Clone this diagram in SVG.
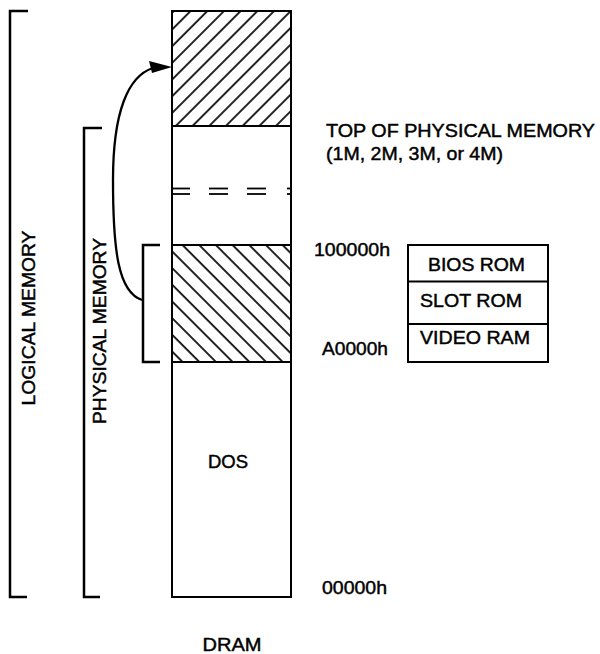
<svg xmlns="http://www.w3.org/2000/svg" width="600" height="654" viewBox="0 0 600 654">
<style>
  .t { font-family: "Liberation Sans", Arial, Helvetica, sans-serif; font-size: 18.5px; fill: #000; stroke: #000; stroke-width: 0.45; }
  .s { fill: none; stroke: #000; stroke-width: 2; }
  .b { fill: none; stroke: #000; stroke-width: 2.5; }
</style>
<defs>
  <pattern id="hatchUp" patternUnits="userSpaceOnUse" width="11.8" height="11.8" patternTransform="rotate(45)">
    <line x1="1" y1="-1" x2="1" y2="13" stroke="#000" stroke-width="1.7"/>
  </pattern>
  <pattern id="hatchDown" patternUnits="userSpaceOnUse" width="11.8" height="11.8" patternTransform="rotate(-45)">
    <line x1="3" y1="-1" x2="3" y2="13" stroke="#000" stroke-width="1.7"/>
  </pattern>
</defs>
<rect width="600" height="654" fill="#fff"/>

<g id="dram-column">
  <rect x="172" y="11" width="119" height="115" fill="url(#hatchUp)"/>
  <rect x="172" y="245" width="119" height="117" fill="url(#hatchDown)"/>
  <rect x="172" y="11" width="119" height="586" class="s"/>
  <line x1="172" y1="126" x2="291" y2="126" class="s"/>
  <line x1="172" y1="245" x2="291" y2="245" class="s"/>
  <line x1="172" y1="362" x2="291" y2="362" class="s"/>
  <g stroke="#000" stroke-width="1.8">
    <line x1="172" y1="188.5" x2="190" y2="188.5"/>
    <line x1="209" y1="188.5" x2="228" y2="188.5"/>
    <line x1="247" y1="188.5" x2="266" y2="188.5"/>
    <line x1="287" y1="188.5" x2="291" y2="188.5"/>
    <line x1="172" y1="194" x2="190" y2="194"/>
    <line x1="209" y1="194" x2="228" y2="194"/>
    <line x1="247" y1="194" x2="266" y2="194"/>
    <line x1="287" y1="194" x2="291" y2="194"/>
  </g>
  <text class="t" x="228" y="468" text-anchor="middle" textLength="40" lengthAdjust="spacingAndGlyphs">DOS</text>
  <text class="t" x="232" y="651" text-anchor="middle" textLength="59" lengthAdjust="spacingAndGlyphs">DRAM</text>
</g>

<g id="logical-bracket">
  <polyline points="28,11 10,11 10,597 27,597" class="b"/>
  <text class="t" transform="translate(35,318) rotate(-90)" text-anchor="middle" textLength="175" lengthAdjust="spacingAndGlyphs">LOGICAL MEMORY</text>
</g>

<g id="physical-bracket">
  <polyline points="102,128 84,128 84,597 100,597" class="b"/>
  <text class="t" transform="translate(106,331) rotate(-90)" text-anchor="middle" textLength="186" lengthAdjust="spacingAndGlyphs">PHYSICAL MEMORY</text>
</g>

<g id="rom-bracket">
  <polyline points="160,245 143,245 143,362 160,362" class="b"/>
</g>

<g id="connectors">
  <path d="M142,300 C118,292 113,250 113,180 C113,112 128,76 153,68" fill="none" stroke="#000" stroke-width="2.3"/>
  <polygon points="172,67 149,61 152,73" fill="#000"/>
</g>

<g id="labels">
  <text class="t" x="326" y="137" textLength="269" lengthAdjust="spacingAndGlyphs">TOP OF PHYSICAL MEMORY</text>
  <text class="t" x="326" y="160" textLength="177" lengthAdjust="spacingAndGlyphs">(1M, 2M, 3M, or 4M)</text>
  <text class="t" x="314" y="256" textLength="76" lengthAdjust="spacingAndGlyphs">100000h</text>
  <text class="t" x="322" y="355" textLength="66" lengthAdjust="spacingAndGlyphs">A0000h</text>
  <text class="t" x="322" y="594" textLength="65" lengthAdjust="spacingAndGlyphs">00000h</text>
</g>

<g id="rom-box">
  <rect x="408" y="245" width="140" height="117" class="s"/>
  <line x1="408" y1="281.5" x2="548" y2="281.5" class="s"/>
  <line x1="408" y1="324" x2="548" y2="324" class="s"/>
  <text class="t" x="428" y="271" textLength="97" lengthAdjust="spacingAndGlyphs">BIOS ROM</text>
  <text class="t" x="420" y="307" textLength="102" lengthAdjust="spacingAndGlyphs">SLOT ROM</text>
  <text class="t" x="420" y="344" textLength="110" lengthAdjust="spacingAndGlyphs">VIDEO RAM</text>
</g>
</svg>
